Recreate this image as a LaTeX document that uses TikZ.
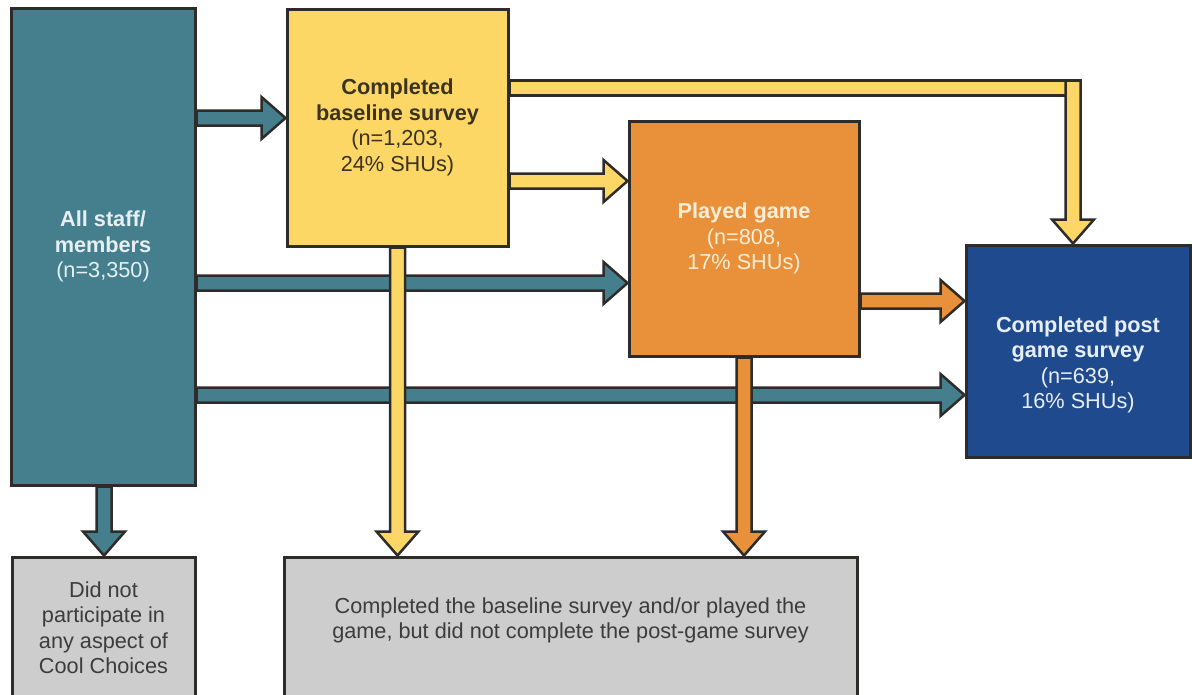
\documentclass[tikz,border=0pt]{standalone}
\usepackage{fontspec}
\setmainfont{Liberation Sans}
\usetikzlibrary{calc}
\definecolor{cteal}{HTML}{457F8E}
\definecolor{cyel}{HTML}{FDD765}
\definecolor{corg}{HTML}{E8913A}
\definecolor{cnavy}{HTML}{1F4A8E}
\definecolor{cgray}{HTML}{CDCDCD}
\definecolor{ink}{HTML}{2E2C28}
\definecolor{tteal}{HTML}{E6F0F2}
\definecolor{tyel}{HTML}{3A3322}
\definecolor{torg}{HTML}{FCEED6}
\definecolor{tnavy}{HTML}{E8EEF6}
\definecolor{tgray}{HTML}{3C3C3C}
\tikzset{
  box/.style={draw=ink, line width=3pt, rectangle, inner sep=0pt, align=center,
    font=\fontsize{21.7}{25.5}\selectfont},
  txt/.style={align=center, inner sep=0pt, font=\fontsize{21.7}{25.5}\selectfont},
  arr/.style={draw=ink, line width=2.5pt, line join=miter},
}
\newcommand\harrow[3]{\draw[arr, fill=#1] let \p1=#2, \p2=#3 in
  (\x1,{\y1+7.5pt}) -- ({\x2-24pt},{\y1+7.5pt}) -- ({\x2-24pt},{\y1+21pt}) -- (\x2,\y1)
  -- ({\x2-24pt},{\y1-21pt}) -- ({\x2-24pt},{\y1-7.5pt}) -- (\x1,{\y1-7.5pt}) -- cycle;}
\newcommand\varrow[3]{\draw[arr, fill=#1] let \p1=#2, \p2=#3 in
  ({\x1+7.5pt},\y1) -- ({\x1+7.5pt},{\y2+24pt}) -- ({\x1+21pt},{\y2+24pt}) -- (\x1,\y2)
  -- ({\x1-21pt},{\y2+24pt}) -- ({\x1-7.5pt},{\y2+24pt}) -- ({\x1-7.5pt},\y1) -- cycle;}
\begin{document}
\begin{tikzpicture}[x=1pt,y=-1pt]
\useasboundingbox[fill=white] (0,0) rectangle (1192,694);
% boxes
\node[box, fill=cteal, text=tteal, minimum width=184pt, minimum height=477pt] (all) at (103,246.5)
  {\textbf{All staff/}\\\textbf{members}\\(n=3,350)};
\node[box, fill=cyel, text=tyel, minimum width=221pt, minimum height=237pt] (base) at (397.5,127.5)
  {\textbf{Completed}\\\textbf{baseline survey}\\(n=1,203,\\24\% SHUs)};
\node[box, fill=corg, text=torg, minimum width=230pt, minimum height=235pt] (played) at (744,238.5)
  {\textbf{Played game}\\(n=808,\\17\% SHUs)};
\node[box, fill=cnavy, minimum width=224pt, minimum height=212pt,
  label={[txt, text=tnavy, name=posttext, yshift=-14pt]center:{\textbf{Completed post}\\\textbf{game survey}\\(n=639,\\16\% SHUs)}}]
  (post) at (1078,351) {};
\node[box, fill=cgray, text=tgray, minimum width=183pt, minimum height=141pt] (didnot) at (103.5,627.5)
  {Did not\\participate in\\any aspect of\\Cool Choices};
\node[box, fill=cgray, minimum width=573pt, minimum height=141pt,
  label={[txt, text=tgray, name=bigtext, yshift=7pt]center:{Completed the baseline survey and/or played the\\game, but did not complete the post-game survey}}]
  (big) at (570.5,627.5) {};
% connectors
\coordinate (elbow) at (1073,88);
\coordinate (elbowtop) at (1073,80.5);
\harrow{cteal}{(all.east |- 0,118)}{(base.west |- 0,118)}
\harrow{cteal}{(all.east |- 0,283)}{(played.west |- 0,283)}
\harrow{cteal}{(all.east |- 0,395)}{(post.west |- 0,395)}
\harrow{cyel}{(base.east |- 0,181)}{(played.west |- 0,181)}
\harrow{corg}{(played.east |- 0,301)}{(post.west |- 0,301)}
\draw[arr, fill=cyel] let \p1=(base.east |- elbow), \p2=(elbow) in
  (\x1,{\y1+7.5pt}) rectangle ({\x2+7.5pt},{\y2-7.5pt});
\varrow{cyel}{(elbowtop)}{(elbow |- post.north)}
\varrow{cteal}{(all.south -| 104,0)}{(didnot.north -| 104,0)}
\varrow{cyel}{(base.south)}{(big.north -| base.south)}
\varrow{corg}{(played.south)}{(big.north -| played.south)}
\end{tikzpicture}
\end{document}
